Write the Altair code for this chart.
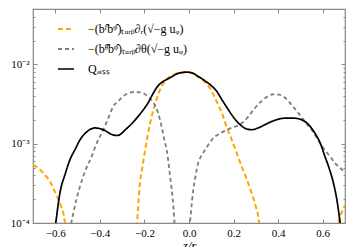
import altair as alt
import pandas as pd

# ---- data ----
q_x = [-0.604, -0.579, -0.555, -0.534, -0.51, -0.489, -0.46, -0.422, -0.38, -0.35, -0.322, -0.28,
       -0.235, -0.2, -0.183, -0.165, -0.145, -0.12, -0.10, -0.077, -0.055, -0.03, -0.010, 0.012,
       0.04, 0.072, 0.1, 0.124, 0.15, 0.176, 0.2, 0.229, 0.255, 0.281, 0.31, 0.341, 0.38, 0.431,
       0.47, 0.506, 0.54, 0.565, 0.59, 0.61, 0.63, 0.648, 0.663, 0.673, 0.685]
q_y = [7e-5, 2.4e-4, 4.2e-4, 6.3e-4, 8.6e-4, 1.12e-3, 1.4e-3, 1.58e-3, 1.48e-3, 1.32e-3, 1.27e-3, 1.55e-3,
       2.1e-3, 2.8e-3, 3.3e-3, 4.1e-3, 5.1e-3, 6.0e-3, 6.45e-3, 7.0e-3, 7.6e-3, 7.9e-3, 8.0e-3, 7.85e-3,
       7.1e-3, 6.2e-3, 5.4e-3, 4.6e-3, 3.5e-3, 2.7e-3, 2.15e-3, 1.74e-3, 1.55e-3, 1.5e-3, 1.58e-3, 1.74e-3,
       1.95e-3, 2.1e-3, 2.1e-3, 2.0e-3, 1.7e-3, 1.36e-3, 1.0e-3, 6.9e-4, 4.8e-4, 3.2e-4, 2.0e-4, 1.3e-4, 7e-5]

r_x1 = [-0.70, -0.685, -0.665, -0.645, -0.625, -0.605, -0.59, -0.575, -0.562, -0.552]
r_y1 = [5.4e-4, 5.1e-4, 4.6e-4, 4.0e-4, 3.4e-4, 2.6e-4, 2.1e-4, 1.65e-4, 1.25e-4, 8e-5]
r_x2 = [-0.236, -0.22, -0.208, -0.197, -0.186, -0.175, -0.164, -0.153, -0.138, -0.123, -0.105, -0.085,
        -0.06, -0.04, -0.015, 0.01, 0.035, 0.065, 0.095, 0.12, 0.147, 0.17, 0.192, 0.215, 0.237, 0.26,
        0.281, 0.3, 0.311, 0.318]
r_y2 = [7e-5, 3.2e-4, 5.3e-4, 8.3e-4, 1.25e-3, 1.8e-3, 2.4e-3, 3.1e-3, 4.2e-3, 5.3e-3, 6.3e-3, 7.1e-3,
        7.6e-3, 7.85e-3, 8.0e-3, 7.8e-3, 7.1e-3, 6.2e-3, 5.0e-3, 3.6e-3, 2.45e-3, 1.6e-3, 1.12e-3, 7.5e-4,
        5.1e-4, 3.5e-4, 2.4e-4, 1.6e-4, 1.2e-4, 8e-5]
r_x3 = [0.664, 0.67, 0.685, 0.70]
r_y3 = [8e-5, 1.0e-4, 1.35e-4, 1.66e-4]

t_x1 = [-0.535, -0.52, -0.505, -0.489, -0.465, -0.437, -0.415, -0.392, -0.365, -0.34, -0.315, -0.295,
        -0.27, -0.242, -0.22, -0.197, -0.178, -0.16, -0.14, -0.123, -0.11, -0.10, -0.085, -0.07, -0.063]
t_y1 = [8e-5, 1.3e-4, 2.0e-4, 2.9e-4, 4.6e-4, 6.9e-4, 1.0e-3, 1.36e-3, 2.0e-3, 2.95e-3, 3.5e-3, 3.98e-3,
        4.35e-3, 4.5e-3, 4.45e-3, 4.2e-3, 3.8e-3, 3.3e-3, 2.5e-3, 1.65e-3, 1.1e-3, 8.3e-4, 3.9e-4, 1.6e-4, 8e-5]
t_x2 = [0.0, 0.008, 0.019, 0.03, 0.041, 0.055, 0.072, 0.09, 0.109, 0.14, 0.169, 0.195, 0.221, 0.245,
        0.266, 0.295, 0.326, 0.35, 0.378, 0.405, 0.431, 0.46, 0.49, 0.52, 0.55, 0.58, 0.61, 0.635, 0.655,
        0.68, 0.70]
t_y2 = [7e-5, 1.3e-4, 2.6e-4, 4.0e-4, 5.7e-4, 7.0e-4, 8.3e-4, 1.0e-3, 1.18e-3, 1.35e-3, 1.5e-3, 1.6e-3,
        1.7e-3, 1.9e-3, 2.2e-3, 2.8e-3, 3.45e-3, 3.9e-3, 4.2e-3, 4.15e-3, 3.8e-3, 3.1e-3, 2.45e-3, 1.9e-3,
        1.5e-3, 1.1e-3, 8.3e-4, 6.8e-4, 5.7e-4, 4.9e-4, 4.3e-4]

labels = ["−(bʳ̂bᵠ̂)ₜᵤᵣᵦ∂ᵣ(√−g uᵩ)", "−(bᶿ̂bᵠ̂)ₜᵤᵣᵦ∂θ(√−g uᵩ)", "Qₔᵢₛₛ"]
colors = ["#FFA500", "#808080", "#000000"]
dashes = [[5, 3], [4, 3], [1, 0]]
widths = [2.0, 1.7, 2.6]

x_ticks = [-0.6, -0.4, -0.2, 0.0, 0.2, 0.4, 0.6]
y_major = [1e-4, 1e-3, 1e-2]
y_minor = [m * d for d in [1e-4, 1e-3, 1e-2] for m in range(2, 10) if m * d <= 0.05]

rows = []
def add(xs, ys, label, seg):
    for a, b in zip(xs, ys):
        rows.append({"x": a, "y": b, "series": label, "seg": seg})

add(r_x1, r_y1, labels[0], "r1")
add(r_x2, r_y2, labels[0], "r2")
add(r_x3, r_y3, labels[0], "r3")
add(t_x1, t_y1, labels[1], "t1")
add(t_x2, t_y2, labels[1], "t2")
add(q_x, q_y, labels[2], "q1")
df = pd.DataFrame(rows)

W, H = 312, 214
FONT = "Liberation Serif"
FRAME = "#888888"

xscale = alt.Scale(domain=[-0.7, 0.7], nice=False, zero=False)
yscale = alt.Scale(type="log", domain=[1e-4, 0.05], nice=False)

ylabel_expr = "datum.value == 0.01 ? '10⁻²' : datum.value == 0.001 ? '10⁻³' : '10⁻⁴'"
xlabel_expr = "replace(format(datum.value, '.1f'), '-', '−')"

base = alt.Chart(df)

lines = base.mark_line(interpolate="monotone", clip=True).encode(
    x=alt.X("x:Q", scale=xscale,
            axis=alt.Axis(orient="bottom", values=x_ticks, labelExpr=xlabel_expr, tickSize=0,
                          domain=False, grid=False, labelFont=FONT, labelFontSize=11,
                          labelColor="black", labelPadding=4, title="z/r",
                          titleFont=FONT, titleFontStyle="italic", titleFontWeight="normal",
                          titleFontSize=13, titleColor="black", titlePadding=1)),
    y=alt.Y("y:Q", scale=yscale,
            axis=alt.Axis(orient="left", values=y_major, labelExpr=ylabel_expr, tickSize=0,
                          domain=False, grid=False, labelFont=FONT, labelFontSize=11,
                          labelColor="black", labelPadding=4, title=None)),
    color=alt.Color("series:N", scale=alt.Scale(domain=labels, range=colors),
                    legend=alt.Legend(title=None, orient="none", legendX=24, legendY=11,
                                      symbolType="stroke", symbolSize=256, labelFont=FONT,
                                      labelFontSize=12, labelColor="black", rowPadding=5,
                                      labelOffset=13, symbolStrokeWidth=2.5)),
    strokeDash=alt.StrokeDash("series:N", scale=alt.Scale(domain=labels, range=dashes)),
    strokeWidth=alt.StrokeWidth("series:N", scale=alt.Scale(domain=labels, range=widths)),
    detail="seg:N",
)

tick_size = {"condition": {"test": "indexof([0.0001, 0.001, 0.01], datum.value) >= 0", "value": 4}, "value": 2}

# inward ticks: bottom edge & left edge
ticks1 = base.mark_line(opacity=0).encode(
    x=alt.X("x:Q", scale=xscale,
            axis=alt.Axis(orient="top", offset=-H, values=x_ticks, labels=False, tickSize=4,
                          tickColor=FRAME, domain=False, grid=False, title=None)),
    y=alt.Y("y:Q", scale=yscale,
            axis=alt.Axis(orient="right", offset=-W, values=y_major + y_minor, labels=False,
                          tickSize=tick_size, tickColor=FRAME, domain=False, grid=False, title=None)),
    detail="seg:N",
)
# inward ticks: top edge & right edge
ticks2 = base.mark_line(opacity=0).encode(
    x=alt.X("x:Q", scale=xscale,
            axis=alt.Axis(orient="bottom", offset=-H, values=x_ticks, labels=False, tickSize=4,
                          tickColor=FRAME, domain=False, grid=False, title=None)),
    y=alt.Y("y:Q", scale=yscale,
            axis=alt.Axis(orient="left", offset=-W, values=y_major + y_minor, labels=False,
                          tickSize=tick_size, tickColor=FRAME, domain=False, grid=False, title=None)),
    detail="seg:N",
)

chart = alt.layer(lines, ticks1, ticks2).resolve_axis(x="independent", y="independent").properties(
    width=W, height=H,
    autosize=alt.AutoSizeParams(type="none"),
    padding={"left": 25, "top": 1, "right": 1, "bottom": 24},
).configure_view(stroke=FRAME, strokeWidth=1.2)

chart.save("out.html", embed_options={"renderer": "svg", "actions": False})
